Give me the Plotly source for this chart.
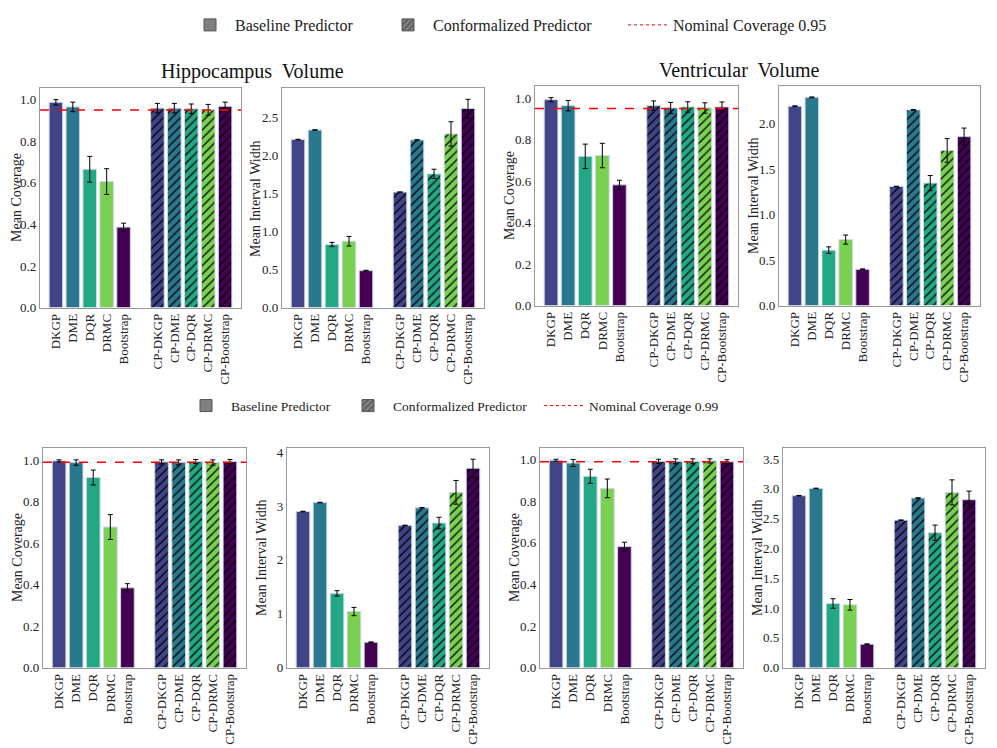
import plotly.graph_objects as go
from plotly.subplots import make_subplots

# the page body has an 8px margin, so the figure is drawn 8px in from the window corner
OFF = 8
W, H = 997 - OFF, 748 - OFF


def px_x(p):
    return (p - OFF) / W


def px_y(p):
    return 1 - (p - OFF) / H


methods = ["DKGP", "DME", "DQR", "DRMC", "Bootstrap"]
cp_methods = ["CP-DKGP", "CP-DME", "CP-DQR", "CP-DRMC", "CP-Bootstrap"]
colors = ["#414487", "#2a788e", "#22a884", "#7ad151", "#440154"]
base_x = [0, 1, 2, 3, 4]
cp_x = [6, 7, 8, 9, 10]

# ---- nominal 0.95 ----
hip95_cov = [0.987, 0.965, 0.665, 0.606, 0.387]
hip95_cov_err = [0.013, 0.023, 0.062, 0.062, 0.019]
hip95_cp_cov = [0.959, 0.959, 0.956, 0.951, 0.968]
hip95_cp_cov_err = [0.023, 0.023, 0.023, 0.026, 0.020]
hip95_wid = [2.205, 2.331, 0.828, 0.871, 0.485]
hip95_wid_err = [0.004, 0.004, 0.028, 0.063, 0.005]
hip95_cp_wid = [1.516, 2.201, 1.755, 2.279, 2.613]
hip95_cp_wid_err = [0.002, 0.003, 0.061, 0.160, 0.121]

ven95_cov = [0.992, 0.963, 0.719, 0.723, 0.582]
ven95_cov_err = [0.010, 0.025, 0.059, 0.059, 0.022]
ven95_cp_cov = [0.963, 0.952, 0.957, 0.952, 0.957]
ven95_cp_cov_err = [0.023, 0.027, 0.025, 0.025, 0.024]
ven95_wid = [2.192, 2.290, 0.610, 0.726, 0.399]
ven95_wid_err = [0.004, 0.004, 0.036, 0.050, 0.005]
ven95_cp_wid = [1.310, 2.152, 1.347, 1.706, 1.858]
ven95_cp_wid_err = [0.003, 0.004, 0.083, 0.130, 0.094]

# ---- nominal 0.99 ----
hip99_cov = [0.997, 0.989, 0.917, 0.678, 0.385]
hip99_cov_err = [0.005, 0.013, 0.036, 0.060, 0.020]
hip99_cp_cov = [0.992, 0.990, 0.994, 0.989, 0.994]
hip99_cp_cov_err = [0.010, 0.012, 0.010, 0.013, 0.010]
hip99_wid = [2.897, 3.063, 1.378, 1.041, 0.472]
hip99_wid_err = [0.005, 0.005, 0.050, 0.077, 0.005]
hip99_cp_wid = [2.640, 2.965, 2.683, 3.253, 3.700]
hip99_cp_wid_err = [0.003, 0.004, 0.107, 0.220, 0.168]

ven99_cov = [0.997, 0.984, 0.920, 0.862, 0.582]
ven99_cov_err = [0.005, 0.017, 0.034, 0.045, 0.021]
ven99_cp_cov = [0.992, 0.992, 0.992, 0.994, 0.990]
ven99_cp_cov_err = [0.010, 0.012, 0.012, 0.010, 0.010]
ven99_wid = [2.884, 3.006, 1.076, 1.054, 0.394]
ven99_wid_err = [0.005, 0.005, 0.080, 0.089, 0.005]
ven99_cp_wid = [2.474, 2.845, 2.263, 2.940, 2.818]
ven99_cp_wid_err = [0.003, 0.004, 0.128, 0.210, 0.144]

panels = [
    # row, col, base, base_err, cp, cp_err, nominal, yrange, dtick, ytitle
    (1, 1, hip95_cov, hip95_cov_err, hip95_cp_cov, hip95_cp_cov_err, 0.95, [0, 1.054], 0.2, "Mean Coverage"),
    (1, 2, hip95_wid, hip95_wid_err, hip95_cp_wid, hip95_cp_wid_err, None, [0, 2.877], 0.5, "Mean Interval Width"),
    (1, 3, ven95_cov, ven95_cov_err, ven95_cp_cov, ven95_cp_cov_err, 0.95, [0, 1.056], 0.2, "Mean Coverage"),
    (1, 4, ven95_wid, ven95_wid_err, ven95_cp_wid, ven95_cp_wid_err, None, [0, 2.41], 0.5, "Mean Interval Width"),
    (2, 1, hip99_cov, hip99_cov_err, hip99_cp_cov, hip99_cp_cov_err, 0.99, [0, 1.057], 0.2, "Mean Coverage"),
    (2, 2, hip99_wid, hip99_wid_err, hip99_cp_wid, hip99_cp_wid_err, None, [0, 4.067], 1, "Mean Interval Width"),
    (2, 3, ven99_cov, ven99_cov_err, ven99_cp_cov, ven99_cp_cov_err, 0.99, [0, 1.054], 0.2, "Mean Coverage"),
    (2, 4, ven99_wid, ven99_wid_err, ven99_cp_wid, ven99_cp_wid_err, None, [0, 3.677], 0.5, "Mean Interval Width"),
]

# panel boxes in window pixels (left, right, top, bottom)
boxes = {
    (1, 1): (40, 241, 83, 304), (1, 2): (282, 484, 83, 304),
    (1, 3): (535, 738, 81, 302), (1, 4): (779, 980, 81, 302),
    (2, 1): (43, 246, 446, 667), (2, 2): (287, 489, 446, 667),
    (2, 3): (540, 743, 446, 667), (2, 4): (783, 985, 446, 667),
}

FONT = "Liberation Serif"
edge = dict(color="#cdd6ea", width=1)
errstyle = dict(type="data", color="black", thickness=1, width=2.5)
hatch = dict(shape="/", fillmode="overlay", fgcolor="#000000", fgopacity=0.85, size=6, solidity=0.25)

fig = make_subplots(rows=2, cols=4)
annotations = []

for row, col, base, base_err, cp, cp_err, nominal, yr, dt, ytitle in panels:
    fig.add_trace(go.Bar(x=base_x, y=base, width=0.8,
                         marker=dict(color=colors, line=edge),
                         error_y=dict(array=base_err, **errstyle),
                         showlegend=False), row=row, col=col)
    # conformalized bars one trace each, so the hatch stays dark on every colour
    for xi, yi, ei, ci in zip(cp_x, cp, cp_err, colors):
        fig.add_trace(go.Bar(x=[xi], y=[yi], width=0.8,
                             marker=dict(color=ci, line=edge, pattern=hatch),
                             error_y=dict(array=[ei], **errstyle),
                             showlegend=False), row=row, col=col)
    if nominal is not None:
        fig.add_hline(y=nominal, line=dict(color="red", dash="dash", width=1.5), row=row, col=col)
    l, r, t, b = boxes[(row, col)]
    fig.update_xaxes(domain=[px_x(l), px_x(r)], range=[-0.94, 10.94], automargin=False,
                     tickvals=base_x + cp_x, ticktext=methods + cp_methods, tickangle=-90,
                     showline=True, mirror=True, linecolor="#999999", linewidth=1.2,
                     ticks="", showgrid=False, zeroline=False,
                     tickfont=dict(size=13, color="#222222"), row=row, col=col)
    fig.update_yaxes(domain=[px_y(b), px_y(t)], range=yr, dtick=dt, automargin=False,
                     tickformat=".1f" if dt < 1 else "d",
                     showline=True, mirror=True, linecolor="#999999", linewidth=1.2,
                     ticks="", showgrid=False, zeroline=False,
                     tickfont=dict(size=13, color="#222222"), row=row, col=col)
    # y-axis title placed beside the tick labels (kept inside the page at the far left)
    annotations.append(dict(text=ytitle, x=px_x(max(l - 26, 17)), y=px_y((t + b) / 2),
                            xref="paper", yref="paper",
                            xanchor="center", yanchor="middle", textangle=-90, showarrow=False,
                            font=dict(size=14, family=FONT, color="#222222")))

# legend entries, one small legend per entry so each sits where the reference has it
# (x values are where each entry's text starts, in window pixels)
legend_rows = [
    ("0.95", ["legend", "legend2", "legend3"], [235, 433, 673], 19, 16),
    ("0.99", ["legend4", "legend5", "legend6"], [231, 393, 589], 403, 13.5),
]
legend_layout = {}
for nom, names, xs, ypix, fsize in legend_rows:
    fig.add_trace(go.Bar(x=[None], y=[None], name="Baseline Predictor", legend=names[0],
                         marker=dict(color="#808080", line=dict(color="#555555", width=1))))
    fig.add_trace(go.Bar(x=[None], y=[None], name="Conformalized Predictor", legend=names[1],
                         marker=dict(color="#808080", line=dict(color="#555555", width=1),
                                     pattern=dict(shape="/", fillmode="overlay",
                                                  fgcolor="#222222", size=5, solidity=0.3))))
    fig.add_trace(go.Scatter(x=[None], y=[None], mode="lines", name="Nominal Coverage " + nom,
                             legend=names[2], line=dict(color="red", dash="dot", width=1)))
    for name, xp in zip(names, xs):
        legend_layout[name] = dict(x=px_x(xp - 50), y=px_y(ypix), xanchor="left", yanchor="middle",
                                   orientation="h", itemwidth=40,
                                   font=dict(family=FONT, size=fsize, color="#222222"),
                                   bgcolor="rgba(0,0,0,0)")

annotations += [
    dict(text="Hippocampus  Volume", x=px_x(252), y=px_y(66), xref="paper", yref="paper",
         xanchor="center", yanchor="middle",
         showarrow=False, font=dict(size=20, family=FONT, color="#111111")),
    dict(text="Ventricular  Volume", x=px_x(739), y=px_y(64), xref="paper", yref="paper",
         xanchor="center", yanchor="middle",
         showarrow=False, font=dict(size=20, family=FONT, color="#111111")),
]

fig.update_layout(
    width=W, height=H,
    margin=dict(l=0, r=0, t=0, b=0),
    plot_bgcolor="white", paper_bgcolor="white",
    font=dict(family=FONT, color="#222222"),
    barmode="overlay",
    annotations=annotations,
    **legend_layout,
)

fig.write_html("out.html")
